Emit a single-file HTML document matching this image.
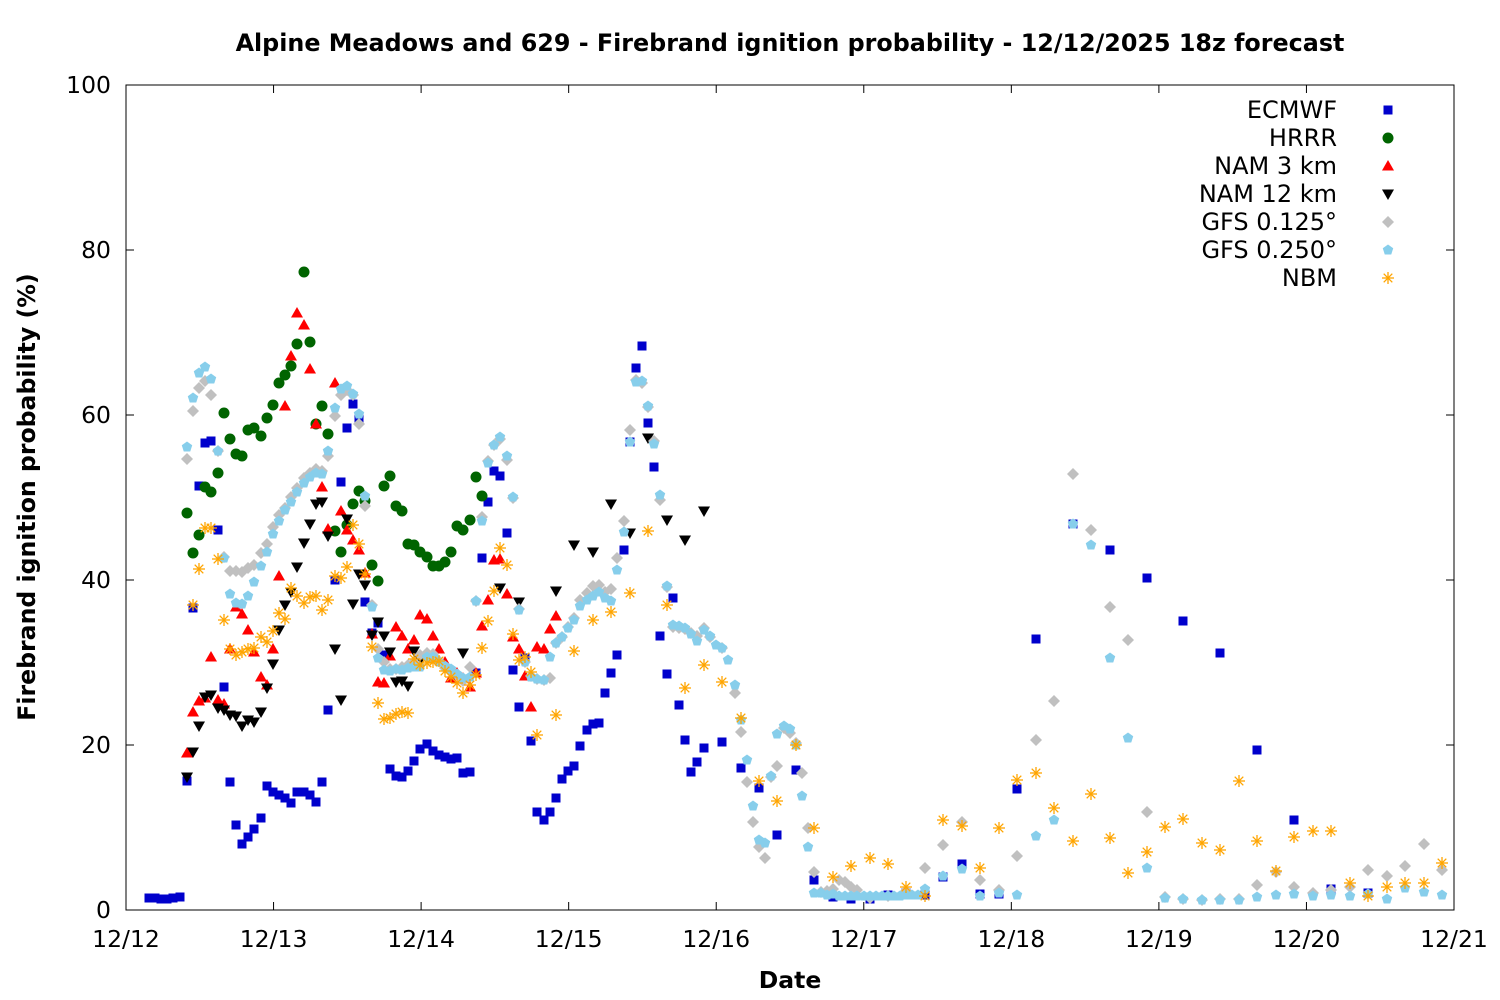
<!DOCTYPE html>
<html><head><meta charset="utf-8"><style>body{margin:0;background:#fff}svg{display:block}text{font-family:"DejaVu Sans","Liberation Sans",sans-serif}</style></head>
<body>
<svg id="s" width="1500" height="1000" xmlns="http://www.w3.org/2000/svg">
<rect width="1500" height="1000" fill="#fff"/>
<text x="790" y="51" font-size="23.8" font-weight="bold" text-anchor="middle">Alpine Meadows and 629 - Firebrand ignition probability - 12/12/2025 18z forecast</text>
<rect x="126" y="85" width="1328" height="825" fill="none" stroke="#000" stroke-width="1"/>
<g id="ticks" stroke="#000" stroke-width="1"></g>
<g id="lbl" font-size="23.5"></g>
<text x="790" y="988" font-size="23.5" font-weight="bold" text-anchor="middle">Date</text>
<text transform="translate(35,497) rotate(-90)" font-size="23.6" font-weight="bold" text-anchor="middle">Firebrand ignition probability (%)</text>
<g id="pts"></g>
<g font-size="24" text-anchor="end">
<text x="1337" y="118">ECMWF</text><text x="1337" y="146">HRRR</text><text x="1337" y="174">NAM 3 km</text><text x="1337" y="202">NAM 12 km</text><text x="1337" y="230">GFS 0.125°</text><text x="1337" y="258">GFS 0.250°</text><text x="1337" y="286">NBM</text>
</g>
</svg>
<script>
const NS="http://www.w3.org/2000/svg";
function el(p,t,a,txt){const e=document.createElementNS(NS,t);for(const k in a)e.setAttribute(k,a[k]);if(txt!==undefined)e.textContent=txt;p.appendChild(e);return e;}
const tk=document.getElementById('ticks'),lb=document.getElementById('lbl'),P=document.getElementById('pts');
for(let i=0;i<=5;i++){const y=910-i*165;el(tk,'line',{x1:126,x2:134,y1:y,y2:y});el(tk,'line',{x1:1446,x2:1454,y1:y,y2:y});el(lb,'text',{x:111,y:y+8,'text-anchor':'end'},String(i*20));}
const dl=['12/12','12/13','12/14','12/15','12/16','12/17','12/18','12/19','12/20','12/21'];
for(let i=0;i<10;i++){const x=126+i*1328/9;el(tk,'line',{x1:x,x2:x,y1:910,y2:902});el(tk,'line',{x1:x,x2:x,y1:85,y2:93});el(lb,'text',{x:x,y:947,'text-anchor':'middle'},dl[i]);}
function mk(t,x,y){
 if(t==0)el(P,'rect',{x:x-4.5,y:y-4.5,width:9,height:9,fill:'#0000cc'});
 else if(t==1)el(P,'circle',{cx:x,cy:y,r:5.5,fill:'#006400'});
 else if(t==2)el(P,'polygon',{points:`${x},${y-6} ${x+6},${y+4.5} ${x-6},${y+4.5}`,fill:'#ff0000'});
 else if(t==3)el(P,'polygon',{points:`${x},${y+6} ${x+6},${y-4.5} ${x-6},${y-4.5}`,fill:'#000'});
 else if(t==4)el(P,'polygon',{points:`${x},${y-6} ${x+6},${y} ${x},${y+6} ${x-6},${y}`,fill:'#c0c0c0'});
 else if(t==5){let s='';for(let k=0;k<5;k++){const a=-Math.PI/2+k*2*Math.PI/5;s+=(x+5.5*Math.cos(a))+','+(y+5.5*Math.sin(a))+' ';}el(P,'polygon',{points:s,fill:'#87ceeb'});}
 else {const g={stroke:'#ffa500','stroke-width':1.3};el(P,'line',Object.assign({x1:x-6,x2:x+6,y1:y,y2:y},g));el(P,'line',Object.assign({x1:x,x2:x,y1:y-6,y2:y+6},g));el(P,'line',Object.assign({x1:x-4.3,x2:x+4.3,y1:y-4.3,y2:y+4.3},g));el(P,'line',Object.assign({x1:x-4.3,x2:x+4.3,y1:y+4.3,y2:y-4.3},g));}
}
const D=[
[149,898,155,898,161,899,167,899,173,898,180,897,187,781,193,608,199,486,205,443,211,441,218,530,224,687,230,782,236,825,242,844,248,837,254,829,261,818,267,786,273,792,279,795,285,798,291,803,297,792,304,792,310,795,316,802,322,782,328,710,335,580,341,482,347,428,353,404,359,419,365,602,372,633,378,623,384,655,390,769,396,776,402,777,408,771,414,761,420,749,427,744,433,751,439,755,445,757,451,759,457,758,463,773,470,772,476,673,482,558,488,502,494,471,500,476,507,533,513,670,519,707,525,658,531,741,537,812,544,820,550,812,556,798,562,779,568,771,574,766,580,746,587,730,593,724,599,723,605,693,611,673,617,655,624,550,630,442,636,368,642,346,648,423,654,467,660,636,667,674,673,598,679,705,685,740,691,772,697,762,704,748,722,742,741,768,759,788,777,835,796,770,814,880,833,897,851,899,870,899,888,895,906,893,925,895,943,877,962,864,980,894,999,894,1017,789,1036,639,1073,524,1110,550,1147,578,1183,621,1220,653,1257,750,1294,820,1331,889,1368,893,1388,110],
[187,513,193,553,199,535,205,487,211,492,218,473,224,413,230,439,236,454,242,456,248,430,254,428,261,436,267,418,273,405,279,383,285,375,291,366,297,344,304,272,310,342,316,424,322,406,328,434,335,531,341,552,347,525,353,504,359,491,365,501,372,565,378,581,384,486,390,476,396,506,402,511,408,544,414,545,420,552,427,557,433,566,439,566,445,562,451,552,457,526,463,530,470,520,476,477,482,496,1388,138],
[187,753,193,712,199,701,205,698,211,657,218,700,224,704,230,649,236,607,242,614,248,630,254,652,261,677,267,685,273,649,279,576,285,406,291,356,297,313,304,325,310,369,316,424,322,487,328,529,335,383,341,511,347,530,353,540,359,550,365,573,372,634,378,682,384,683,390,656,396,627,402,636,408,649,414,640,420,615,427,619,433,636,439,649,445,662,451,678,457,673,463,678,470,687,476,673,482,626,488,600,494,560,500,559,507,594,513,637,519,649,525,676,531,707,537,647,544,649,550,629,556,616,1388,166],
[187,777,193,752,199,726,205,697,211,695,218,708,224,710,230,715,236,716,242,726,248,720,254,722,261,712,267,688,273,664,279,630,285,605,291,592,297,567,304,543,310,524,316,504,322,502,328,536,335,649,341,700,347,519,353,604,359,574,365,585,372,635,378,622,384,636,390,652,396,682,402,681,408,686,414,651,420,660,463,653,500,588,519,602,556,591,574,545,593,552,611,504,630,533,648,438,667,520,685,540,704,511,1388,194],
[187,459,193,411,199,388,205,381,211,395,218,451,224,557,230,571,236,571,242,572,248,568,254,565,261,553,267,544,273,527,279,515,285,508,291,497,297,488,304,478,310,473,316,469,322,471,328,456,335,416,341,395,347,390,353,395,359,424,365,506,372,605,378,649,384,662,390,669,396,669,402,667,408,665,414,662,420,655,427,653,433,654,439,661,445,668,451,672,457,675,463,681,470,667,476,601,482,517,488,461,494,445,500,439,507,460,513,498,519,609,525,662,531,676,537,679,544,680,550,678,556,643,562,637,568,627,574,618,580,600,587,593,593,586,599,585,605,592,611,589,617,558,624,521,630,430,636,380,642,383,648,407,654,441,660,500,667,587,673,627,679,628,685,629,691,633,697,636,704,628,710,637,722,648,735,693,741,732,747,782,753,822,759,847,765,858,771,777,777,766,784,728,790,733,796,743,802,773,808,828,814,872,821,892,827,891,833,889,839,880,845,882,851,887,857,890,870,898,888,896,906,891,925,868,943,845,962,822,980,880,999,890,1017,856,1036,740,1054,701,1073,474,1091,530,1110,607,1128,640,1147,812,1165,897,1183,899,1202,900,1220,899,1239,899,1257,885,1276,872,1294,887,1313,893,1331,890,1350,887,1368,870,1387,876,1405,866,1424,844,1442,870,1388,222],
[187,447,193,398,199,373,205,367,211,379,218,451,224,558,230,594,236,603,242,604,248,596,254,582,261,566,267,552,273,534,279,521,285,510,291,502,297,492,304,483,310,477,316,473,322,474,328,451,335,408,341,389,347,386,353,394,359,414,365,496,372,607,378,658,384,670,390,671,396,669,402,670,408,668,414,667,420,667,427,657,433,657,439,662,445,666,451,669,457,674,463,678,470,677,476,601,482,521,488,463,494,445,500,437,507,456,513,497,519,610,525,662,531,677,537,679,544,680,550,657,556,643,562,637,568,628,574,620,580,606,587,600,593,596,599,592,605,598,611,601,617,570,624,532,630,442,636,382,642,381,648,406,654,444,660,495,667,586,673,625,679,626,685,628,691,634,697,641,704,630,710,636,716,645,722,648,728,660,735,685,741,720,747,760,753,806,759,840,765,843,771,776,777,734,784,726,790,729,796,745,802,796,808,847,814,893,821,893,827,895,833,894,839,896,845,896,851,896,857,896,864,896,870,896,876,896,882,896,888,896,894,896,900,896,906,895,912,895,918,895,925,889,943,876,962,869,980,896,999,893,1017,895,1036,836,1054,820,1073,524,1091,545,1110,658,1128,738,1147,868,1165,898,1183,899,1202,900,1220,900,1239,900,1257,897,1276,895,1294,894,1313,896,1331,895,1350,896,1368,894,1387,899,1405,888,1424,892,1442,895,1388,250],
[193,605,199,569,205,528,211,528,218,559,224,620,230,649,236,655,242,652,248,649,254,648,261,637,267,642,273,631,279,613,285,619,291,588,297,596,304,603,310,597,316,596,322,610,328,600,335,576,341,578,347,567,353,525,359,544,365,574,372,647,378,703,384,719,390,718,396,714,402,712,408,713,414,659,420,665,427,663,433,662,439,661,445,671,451,677,457,683,463,693,470,685,476,675,482,648,488,621,494,591,500,548,507,565,513,634,519,660,525,657,531,672,537,735,556,715,574,651,593,620,611,612,630,593,648,531,667,605,685,688,704,665,722,682,741,718,759,781,777,801,796,745,814,828,833,877,851,866,870,858,888,864,906,887,925,896,943,820,962,826,980,868,999,828,1017,780,1036,773,1054,808,1073,841,1091,794,1110,838,1128,873,1147,852,1165,827,1183,819,1202,843,1220,850,1239,781,1257,841,1276,871,1294,837,1313,831,1331,831,1350,883,1368,896,1387,887,1405,883,1424,883,1442,863,1388,278]];
D.forEach((a,t)=>{for(let i=0;i<a.length;i+=2)mk(t,a[i],a[i+1]);});
</script>
</body></html>
